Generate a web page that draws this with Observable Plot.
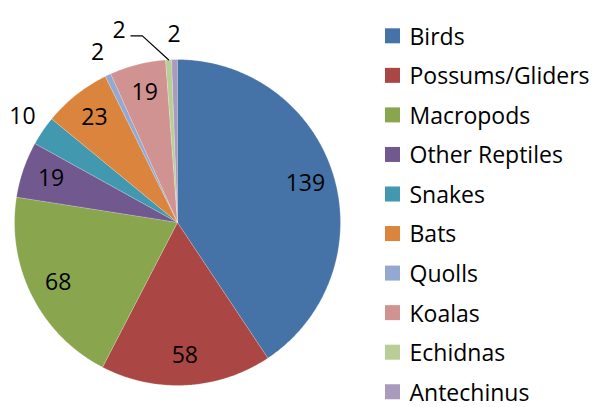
<!DOCTYPE html>
<html>
<head>
<meta charset="utf-8">
<script src="https://cdn.jsdelivr.net/npm/d3@7"></script>
<script src="https://cdn.jsdelivr.net/npm/@observablehq/plot@0.6"></script>
<style>
  html, body { margin: 0; padding: 0; background: #fff; }
  #chart svg { display: block; }
</style>
</head>
<body>
<div id="chart"></div>
<script>
// ---- data ----
const categories = ["Birds", "Possums/Gliders", "Macropods", "Other Reptiles", "Snakes", "Bats", "Quolls", "Koalas", "Echidnas", "Antechinus"];
const values = [139, 58, 68, 19, 10, 23, 2, 19, 2, 2];
const colors = ["#4572A7", "#AA4643", "#89A54E", "#71588F", "#4198AF", "#DB843D", "#93A9CF", "#D19392", "#B9CD96", "#A99BBD"];

// ---- layout ----
const W = 593, H = 407;
const cx = 177, cy = 222, R = 163;
const insideFactor = 0.82, outsideFactor = 1.15, outsideThreshold = 10;
const labelShift = { "Echidnas": [-48, -5] };
const legendX = 385, legendSq = 15, legendTop = 35.8, legendStep = 39.55, legendTextX = 409;
const font = "Open Sans";
const fs = 23;

const total = d3.sum(values);
let cum = 0;
const slices = categories.map((name, i) => {
  const a0 = cum / total * 2 * Math.PI;
  cum += values[i];
  const a1 = cum / total * 2 * Math.PI;
  return { name, value: values[i], a0, a1, mid: (a0 + a1) / 2 };
});

const polyPts = [];
for (const s of slices) {
  polyPts.push({ name: s.name, x: cx, y: cy });
  const n = Math.max(2, Math.ceil((s.a1 - s.a0) * 180 / Math.PI * 2));
  for (let k = 0; k <= n; k++) {
    const a = s.a0 + (s.a1 - s.a0) * k / n;
    polyPts.push({ name: s.name, x: cx + R * Math.sin(a), y: cy - R * Math.cos(a) });
  }
}

const labels = slices.map(s => {
  const f = s.value <= outsideThreshold ? outsideFactor : insideFactor;
  const sh = labelShift[s.name] || [0, 0];
  return {
    name: s.name, text: String(s.value),
    x: cx + R * f * Math.sin(s.mid) + sh[0],
    y: cy - R * f * Math.cos(s.mid) + sh[1],
    shifted: !!labelShift[s.name], mid: s.mid
  };
});

const leaderPts = [];
for (const l of labels.filter(d => d.shifted)) {
  leaderPts.push({ name: l.name, x: l.x + 11.7, y: l.y + 5.5 });
  leaderPts.push({ name: l.name, x: l.x + 23.2, y: l.y + 5.5 });
  leaderPts.push({ name: l.name, x: cx + R * Math.sin(l.mid), y: cy - R * Math.cos(l.mid) });
}

const legend = categories.map((name, i) => ({ name, yc: legendTop + i * legendStep }));

const chart = Plot.plot({
  width: W, height: H,
  margin: 0,
  style: { fontFamily: font, background: "#fff" },
  x: { domain: [0, W], range: [0, W], axis: null },
  y: { domain: [0, H], range: [0, H], axis: null },
  color: { domain: categories, range: colors, legend: false },
  marks: [
    Plot.line(polyPts, { x: "x", y: "y", z: "name", fill: "name", stroke: "#ffffff", strokeWidth: 0.5, strokeOpacity: 0.5, curve: "linear" }),
    Plot.line(leaderPts, { x: "x", y: "y", z: "name", stroke: "#000", strokeWidth: 1.2, curve: "linear" }),
    Plot.text(labels, { x: "x", y: "y", text: "text", fontSize: fs, fill: "#000", textAnchor: "middle", lineAnchor: "middle" }),
    Plot.rect(legend, { x1: legendX, x2: legendX + legendSq, y1: d => d.yc - legendSq / 2, y2: d => d.yc + legendSq / 2, fill: "name" }),
    Plot.text(legend, { x: legendTextX, y: d => d.yc + 1, text: "name", fontSize: fs, fill: "#000", textAnchor: "start", lineAnchor: "middle" })
  ]
});
document.getElementById("chart").appendChild(chart);
</script>
</body>
</html>
